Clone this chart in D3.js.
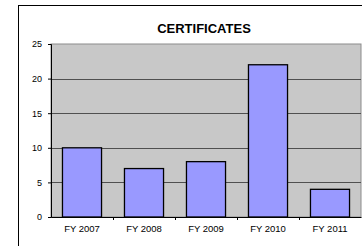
<!DOCTYPE html>
<html lang="en">
<head>
<meta charset="utf-8">
<title>Certificates</title>
<script src="https://d3js.org/d3.v7.min.js"></script>
<style>
  body { margin: 0; background: #fff; }
  svg { display: block; font-family: "Liberation Sans", Arial, sans-serif; }
</style>
</head>
<body>
<div id="my_dataviz"></div>
<script>
var categories = ["FY 2007", "FY 2008", "FY 2009", "FY 2010", "FY 2011"];
var values = [10, 7, 8, 22, 4];
var yTicks = [0, 5, 10, 15, 20, 25];

var W = 362, H = 246;
var margin = { top: 44, right: 1, bottom: 29, left: 51 },
    width = W - margin.left - margin.right,
    height = H - margin.top - margin.bottom;

var svg = d3.select("#my_dataviz")
    .append("svg")
    .attr("width", W)
    .attr("height", H);

// outer chart frame
svg.append("rect")
    .attr("x", 18.5).attr("y", 5.5)
    .attr("width", 400).attr("height", 300)
    .attr("fill", "#fff")
    .attr("stroke", "#000")
    .attr("stroke-width", 1);

svg.append("text")
    .attr("x", 204).attr("y", 33)
    .attr("text-anchor", "middle")
    .style("font-size", "13px")
    .style("font-weight", "bold")
    .text("CERTIFICATES");

var g = svg.append("g")
    .attr("transform", "translate(" + margin.left + "," + margin.top + ")");

var x = d3.scaleBand()
    .domain(categories)
    .range([0, width])
    .paddingInner(0.37)
    .paddingOuter(0.185);

var xb = d3.scaleBand().domain(categories).range([0, width]);

var y = d3.scaleLinear()
    .domain([0, 25])
    .range([height, 0]);

g.append("rect")
    .attr("x", 0).attr("y", 0)
    .attr("width", width).attr("height", height)
    .attr("fill", "#c8c8c8")
    .attr("stroke", "#8c8c8c");

g.selectAll(".grid")
    .data(yTicks.filter(function(d) { return d > 0 && d < 25; }))
    .enter().append("line")
    .attr("x1", 0).attr("x2", width)
    .attr("y1", function(d) { return Math.round(y(d)) + 0.5; })
    .attr("y2", function(d) { return Math.round(y(d)) + 0.5; })
    .attr("stroke", "#505050")
    .attr("stroke-width", 1.2);

g.selectAll(".bar")
    .data(values)
    .enter().append("rect")
    .attr("x", function(d, i) { return x(categories[i]); })
    .attr("y", function(d) { return y(d); })
    .attr("width", x.bandwidth())
    .attr("height", function(d) { return height - y(d); })
    .attr("fill", "#9999ff")
    .attr("stroke", "#000")
    .attr("stroke-width", 1.3);

var yAxis = g.append("g")
    .call(d3.axisLeft(y).tickValues(yTicks).tickSize(3).tickPadding(6));
yAxis.select(".domain").attr("stroke", "#000");
yAxis.selectAll("text").style("font-size", "9px").attr("fill", "#000");

var xAxis = g.append("g")
    .attr("transform", "translate(0," + height + ")")
    .call(d3.axisBottom(xb).tickSize(0).tickPadding(8));
xAxis.select(".domain").attr("stroke", "#000");
xAxis.selectAll("text").style("font-size", "9.5px").attr("fill", "#000");

// category separator ticks
g.selectAll(".xtick")
    .data(categories.slice(1))
    .enter().append("line")
    .attr("x1", function(d) { return Math.round(xb(d)) + 0.5; })
    .attr("x2", function(d) { return Math.round(xb(d)) + 0.5; })
    .attr("y1", height).attr("y2", height + 3)
    .attr("stroke", "#000");
</script>
</body>
</html>
